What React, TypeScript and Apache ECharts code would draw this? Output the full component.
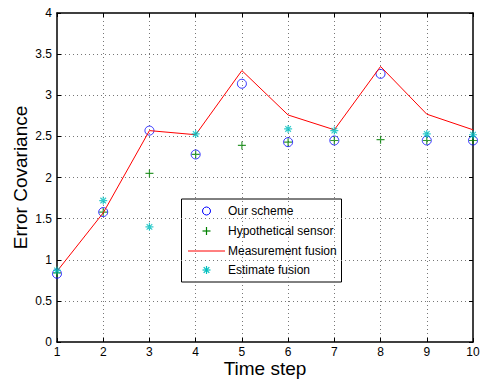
import React, { useEffect, useRef } from "react";
import * as echarts from "echarts";

const timeSteps = [1, 2, 3, 4, 5, 6, 7, 8, 9, 10];
const ourScheme = [0.83, 1.58, 2.57, 2.28, 3.14, 2.43, 2.45, 3.26, 2.45, 2.45];
const hypotheticalSensor = [0.84, 1.58, 2.05, 2.28, 2.39, 2.43, 2.45, 2.46, 2.45, 2.45];
const measurementFusion = [0.86, 1.57, 2.57, 2.52, 3.3, 2.76, 2.58, 3.35, 2.77, 2.58];
const estimateFusion: (number | null)[] = [0.87, 1.72, 1.4, 2.53, null, 2.59, 2.57, null, 2.53, 2.52];
const legendLabels = ["Our scheme", "Hypothetical sensor", "Measurement fusion", "Estimate fusion"];

const FONT = "Liberation Sans, Arial, Helvetica, sans-serif";
const PLUS = "path://M0,-1L0,1M-1,0L1,0";
const STAR = "path://M0,-1L0,1M-1,0L1,0M-0.7,-0.7L0.7,0.7M-0.7,0.7L0.7,-0.7";

const pairs = (vals: (number | null)[]) => timeSteps.map((t, i) => [t, vals[i]]);

const W = 482, H = 381;

export default function App() {
  const ref = useRef<HTMLDivElement>(null);
  useEffect(() => {
    const chart = echarts.init(ref.current!, null, { renderer: "svg" });
    const axisLine = { show: true, onZero: false, lineStyle: { color: "#000", width: 1.5 } };
    const split = { show: true, showMinLine: false, showMaxLine: false, lineStyle: { color: "#777", type: [1, 3] as any, width: 1 } };
    const tick = { inside: true, length: 4, lineStyle: { color: "#000", width: 1 } };
    const lx = 181.5, ly = 199, lw = 160, lh = 83;
    const rowY = [211, 231, 251, 270];
    const mx = 206.5, tx = 228;
    chart.setOption({
      animation: false,
      backgroundColor: "#fff",
      grid: { left: 57, right: 9, top: 13, bottom: 39, containLabel: false, outerBoundsMode: "none" },
      xAxis: [
        {
          type: "value", min: 1, max: 10, interval: 1,
          axisLine, axisTick: tick,
          axisLabel: { color: "#000", fontSize: 12, fontFamily: FONT, margin: 4 },
          splitLine: split,
          name: "Time step", nameLocation: "middle", nameGap: 17, nameMoveOverlap: false,
          nameTextStyle: { color: "#000", fontSize: 19, fontFamily: FONT },
        },
        {
          type: "value", min: 1, max: 10, interval: 1, position: "top",
          axisLine, axisTick: tick,
          axisLabel: { show: false }, splitLine: { show: false },
        },
      ],
      yAxis: [
        {
          type: "value", min: 0, max: 4, interval: 0.5,
          axisLine, axisTick: tick,
          axisLabel: { color: "#000", fontSize: 12, fontFamily: FONT, margin: 5 },
          splitLine: split,
          name: "Error Covariance", nameLocation: "middle", nameGap: 27, nameMoveOverlap: false,
          nameTextStyle: { color: "#000", fontSize: 19, fontFamily: FONT },
        },
        {
          type: "value", min: 0, max: 4, interval: 0.5, position: "right",
          axisLine, axisTick: tick,
          axisLabel: { show: false }, splitLine: { show: false },
        },
      ],
      series: [
        {
          name: legendLabels[0], type: "scatter", data: pairs(ourScheme),
          symbol: "circle", symbolSize: 9,
          itemStyle: { color: "transparent", borderColor: "#0000FF", borderWidth: 1 },
          z: 2,
        },
        {
          name: legendLabels[1], type: "scatter", data: pairs(hypotheticalSensor),
          symbol: PLUS, symbolSize: 8,
          itemStyle: { color: "transparent", borderColor: "#008000", borderWidth: 1.2 },
          z: 3,
        },
        {
          name: legendLabels[2], type: "line", data: pairs(measurementFusion),
          showSymbol: false, symbol: "none",
          lineStyle: { color: "#FF0000", width: 1 },
          z: 4,
        },
        {
          name: legendLabels[3], type: "scatter", data: pairs(estimateFusion),
          symbol: STAR, symbolSize: 8,
          itemStyle: { color: "transparent", borderColor: "#00BFBF", borderWidth: 1.2 },
          z: 5,
        },
      ],
      graphic: [
        {
          type: "group", z: 100,
          children: [
            { type: "rect", shape: { x: lx, y: ly, width: lw, height: lh }, style: { fill: "#fff", stroke: "#000", lineWidth: 1 } },
            { type: "circle", shape: { cx: mx, cy: rowY[0], r: 4 }, style: { fill: "none", stroke: "#0000FF", lineWidth: 1 } },
            { type: "line", shape: { x1: mx - 4, y1: rowY[1], x2: mx + 4, y2: rowY[1] }, style: { stroke: "#008000", lineWidth: 1.2 } },
            { type: "line", shape: { x1: mx, y1: rowY[1] - 4, x2: mx, y2: rowY[1] + 4 }, style: { stroke: "#008000", lineWidth: 1.2 } },
            { type: "line", shape: { x1: 188, y1: rowY[2], x2: 225, y2: rowY[2] }, style: { stroke: "#FF0000", lineWidth: 1 } },
            { type: "line", shape: { x1: mx - 4, y1: rowY[3], x2: mx + 4, y2: rowY[3] }, style: { stroke: "#00BFBF", lineWidth: 1.2 } },
            { type: "line", shape: { x1: mx, y1: rowY[3] - 4, x2: mx, y2: rowY[3] + 4 }, style: { stroke: "#00BFBF", lineWidth: 1.2 } },
            { type: "line", shape: { x1: mx - 2.8, y1: rowY[3] - 2.8, x2: mx + 2.8, y2: rowY[3] + 2.8 }, style: { stroke: "#00BFBF", lineWidth: 1.2 } },
            { type: "line", shape: { x1: mx - 2.8, y1: rowY[3] + 2.8, x2: mx + 2.8, y2: rowY[3] - 2.8 }, style: { stroke: "#00BFBF", lineWidth: 1.2 } },
            ...legendLabels.map((s, i) => ({
              type: "text",
              style: { text: s, x: tx, y: rowY[i], verticalAlign: "middle", fill: "#000", fontSize: 12, fontFamily: FONT },
            })),
          ],
        },
      ],
    });
    return () => chart.dispose();
  }, []);
  return <div ref={ref} style={{ position: "fixed", left: 0, top: 0, width: W, height: H }} />;
}
